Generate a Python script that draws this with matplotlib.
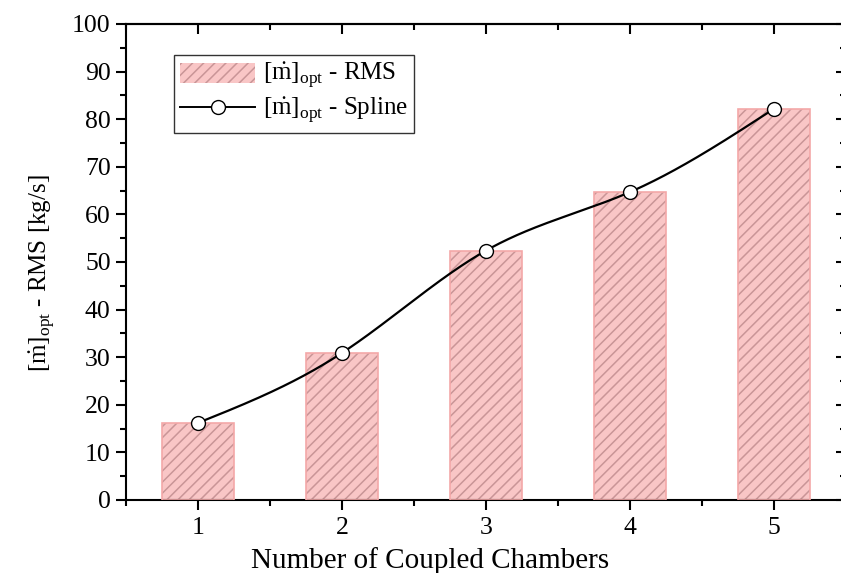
import numpy as np
import matplotlib
matplotlib.use("Agg")
import matplotlib.pyplot as plt
from matplotlib.patches import Patch
from matplotlib.lines import Line2D
from matplotlib.ticker import MultipleLocator

chambers = [1, 2, 3, 4, 5]
rms_values = [16.2, 30.9, 52.4, 64.7, 82.2]
y_ticks = list(range(0, 101, 10))

plt.rcParams['font.family'] = ['Liberation Serif', 'DejaVu Serif']
plt.rcParams['mathtext.fontset'] = 'custom'
plt.rcParams['mathtext.rm'] = 'Liberation Serif'
plt.rcParams['mathtext.it'] = 'Liberation Serif:italic'
plt.rcParams['hatch.linewidth'] = 1.1


def natural_spline(x, y, n=400):
    x = np.asarray(x, float)
    y = np.asarray(y, float)
    k = len(x)
    h = np.diff(x)
    A = np.zeros((k, k))
    b = np.zeros(k)
    A[0, 0] = 1
    A[-1, -1] = 1
    for i in range(1, k - 1):
        A[i, i - 1] = h[i - 1]
        A[i, i] = 2 * (h[i - 1] + h[i])
        A[i, i + 1] = h[i]
        b[i] = 6 * ((y[i + 1] - y[i]) / h[i] - (y[i] - y[i - 1]) / h[i - 1])
    M = np.linalg.solve(A, b)
    xs = np.linspace(x[0], x[-1], n)
    ys = np.empty_like(xs)
    for j, xv in enumerate(xs):
        i = min(np.searchsorted(x, xv, side='right') - 1, k - 2)
        t0 = x[i + 1] - xv
        t1 = xv - x[i]
        ys[j] = (M[i] * t0 ** 3 + M[i + 1] * t1 ** 3) / (6 * h[i]) \
            + (y[i] / h[i] - M[i] * h[i] / 6) * t0 \
            + (y[i + 1] / h[i] - M[i + 1] * h[i] / 6) * t1
    return xs, ys


fig = plt.figure(figsize=(8.41, 5.73), dpi=100)
ax = fig.add_axes([126 / 841, 1 - 500 / 573, (846 - 126) / 841, (500 - 24) / 573])

face = '#f9c6c6'
hatch_c = '#c99597'
edge = '#f4a8a8'

ax.bar(chambers, rms_values, width=0.5, color=face, edgecolor=hatch_c,
       linewidth=0, hatch='///', zorder=2)
ax.bar(chambers, rms_values, width=0.5, fill=False, edgecolor=edge,
       linewidth=1.2, zorder=3)

xs, ys = natural_spline(chambers, rms_values)
ax.plot(xs, ys, color='black', lw=1.6, zorder=4)
ax.plot(chambers, rms_values, 'o', ms=10, mfc='white', mec='black', mew=1.0, zorder=5)

ax.set_xlim(0.5, 5.5)
ax.set_ylim(0, 100)
ax.set_xticks(chambers)
ax.set_yticks(y_ticks)
ax.xaxis.set_minor_locator(MultipleLocator(0.5))
ax.yaxis.set_minor_locator(MultipleLocator(5))

ax.tick_params(axis='both', which='major', labelsize=18.5, width=1.5, length=7)
ax.tick_params(axis='both', which='minor', width=1.5, length=4)
ax.tick_params(axis='x', which='both', direction='out', top=False, pad=5)
ax.tick_params(axis='y', which='both', direction='out', right=False, pad=4)

axt = ax.secondary_xaxis('top')
axt.set_xticks(chambers)
axt.xaxis.set_minor_locator(MultipleLocator(0.5))
axt.tick_params(which='major', direction='in', length=7, width=1.5, labeltop=False)
axt.tick_params(which='minor', direction='in', length=4, width=1.5)
axt.set_xticklabels([])
axr = ax.secondary_yaxis('right')
axr.set_yticks(y_ticks)
axr.yaxis.set_minor_locator(MultipleLocator(5))
axr.tick_params(which='major', direction='in', length=7, width=1.5)
axr.tick_params(which='minor', direction='in', length=4, width=1.5)
axr.set_yticklabels([])

for sp in ax.spines.values():
    sp.set_linewidth(1.5)
axt.spines['top'].set_linewidth(1.5)
axr.spines['right'].set_linewidth(1.5)

ax.set_xlabel('Number of Coupled Chambers', fontsize=21)
ax.xaxis.set_label_coords(0.422, -0.098)
ax.set_ylabel(r'$[\dot{\mathrm{m}}]_{\mathrm{opt}}$ - RMS [kg/s]', fontsize=18)
ax.yaxis.set_label_coords(-0.094, 0.477)

h_bar = Patch(facecolor=face, edgecolor=hatch_c, hatch='///', linewidth=0)
h_line = Line2D([], [], color='black', lw=1.4, marker='o', ms=10, mfc='white', mec='black')
leg = ax.legend([h_bar, h_line],
                [r'$[\dot{\mathrm{m}}]_{\mathrm{opt}}$ - RMS',
                 r'$[\dot{\mathrm{m}}]_{\mathrm{opt}}$ - Spline'],
                loc='upper left', bbox_to_anchor=(0.067, 0.935), fontsize=18,
                frameon=True, fancybox=False, edgecolor='#333333', framealpha=1,
                handlelength=3.0, handleheight=0.9, handletextpad=0.3,
                borderpad=0.25, labelspacing=0.2, borderaxespad=0)
leg.get_frame().set_linewidth(1.0)

fig.savefig('out.png', dpi=100)
